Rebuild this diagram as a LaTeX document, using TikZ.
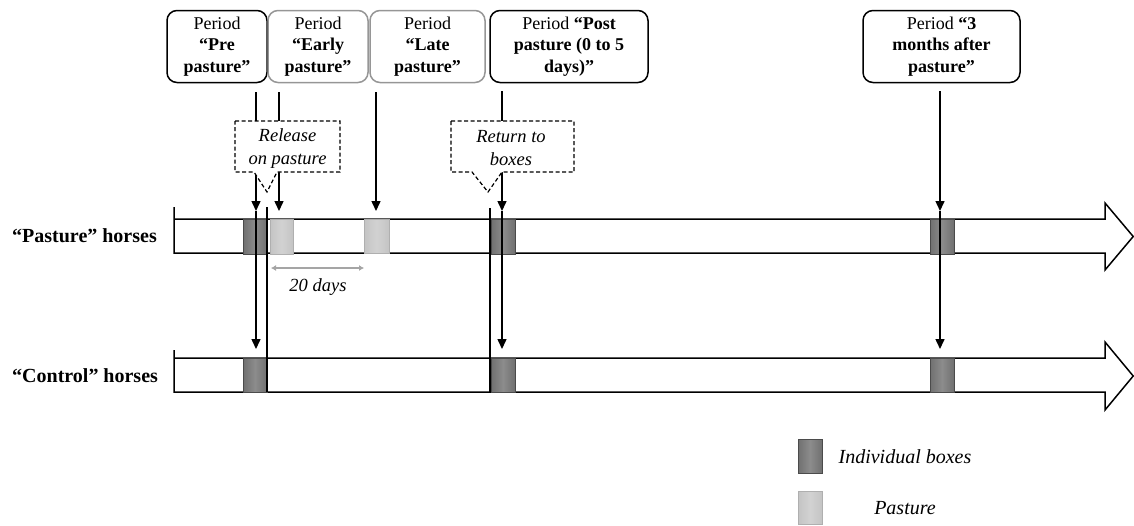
\documentclass[tikz,border=0pt]{standalone}
\usepackage{fontspec}
\setmainfont{Liberation Serif}
\usetikzlibrary{arrows.meta}
\definecolor{dkfill}{RGB}{112,112,112}
\definecolor{dkmid}{RGB}{140,140,140}
\definecolor{dkline}{RGB}{75,75,75}
\definecolor{ltfill}{RGB}{196,196,196}
\definecolor{ltmid}{RGB}{210,210,210}
\definecolor{ltline}{RGB}{175,175,175}
\definecolor{grayframe}{RGB}{150,150,150}
\definecolor{durgray}{RGB}{165,165,165}
\tikzset{
  pbox/.style={draw=black, line width=1.5pt, rounded corners=10pt, align=center,
    inner sep=0pt, minimum height=72pt, font=\fontsize{18}{21.7}\selectfont},
  gbox/.style={pbox, draw=grayframe},
  bar/.style={draw=black, line width=1.5pt, fill=white, line join=miter},
  dkbox/.style={draw=dkline, line width=1pt, left color=dkfill, right color=dkfill, middle color=dkmid},
  ltbox/.style={draw=ltline, line width=1pt, left color=ltfill, right color=ltfill, middle color=ltmid},
  sepline/.style={draw=black, line width=1.5pt},
  arr/.style={draw=black, line width=1.5pt, -{Triangle[width=9pt,length=10pt]}},
  callout/.style={draw=black, line width=1.2pt, fill=white, dash pattern=on 4pt off 2.5pt},
  ctext/.style={align=center, inner sep=0pt, font=\fontsize{18.5}{23}\selectfont\itshape},
  rowlabel/.style={anchor=west, inner sep=0pt, font=\fontsize{20}{24}\selectfont\bfseries},
  legtext/.style={inner sep=0pt, font=\fontsize{20}{24}\selectfont\itshape},
  durarrow/.style={draw=durgray, line width=2.5pt, {Latex[length=5pt,width=6pt]}-{Latex[length=5pt,width=6pt]}}
}
\begin{document}
\begin{tikzpicture}[x=1pt,y=-1pt]
\useasboundingbox (0,0) rectangle (1134,525);

% period boxes
\node[pbox, minimum width=100pt] (pre) at (217,46.5) {Period\\\textbf{“Pre}\\\textbf{pasture”}};
\node[gbox, minimum width=100pt] (early) at (318,46.5) {Period\\\textbf{“Early}\\\textbf{pasture”}};
\node[gbox, minimum width=115pt] (late) at (427.5,46.5) {Period\\\textbf{“Late}\\\textbf{pasture”}};
\node[pbox, minimum width=158pt] (post) at (569,46.5) {Period \textbf{“Post}\\\textbf{pasture (0 to 5}\\\textbf{days)”}};
\node[pbox, minimum width=157pt] (three) at (941.5,46.5) {Period \textbf{“3}\\\textbf{months after}\\\textbf{pasture”}};

% timeline bars
\draw[bar] (174,207) -- (174,253) -- (1105,253) -- (1105,270) -- (1133.2,236.5) -- (1105,203) -- (1105,219) -- (174,219);
\draw[bar] (174,350) -- (174,392) -- (1105,392) -- (1105,410) -- (1133.2,376) -- (1105,342) -- (1105,358) -- (174,358);

% period blocks on the "Pasture" bar
\draw[dkbox] (243,219) rectangle (267,254);
\draw[ltbox] (270,219) rectangle (293,254);
\draw[ltbox] (364,219) rectangle (389,253);
\draw[dkbox] (491,219) rectangle (515,254);
\draw[dkbox] (930,219) rectangle (954,254);
% period blocks on the "Control" bar
\draw[dkbox] (243,358) rectangle (267,392);
\draw[dkbox] (491,358) rectangle (515,392);
\draw[dkbox] (930,358) rectangle (954,392);

% separators
\coordinate (s1t) at (267,207); \coordinate (s1b) at (267,392);
\coordinate (s2t) at (490,208); \coordinate (s2b) at (490,392);
\draw[sepline] (s1t) -- (s1b);
\draw[sepline] (s2t) -- (s2b);

% arrows from period boxes
\coordinate (preA) at (256,92);  \coordinate (preP) at (256,211); \coordinate (preC) at (256,349);
\coordinate (earA) at (279,92);  \coordinate (earP) at (279,211);
\coordinate (latA) at (376,92);  \coordinate (latP) at (376,211);
\coordinate (posA) at (502,91);  \coordinate (posP) at (502,211); \coordinate (posC) at (502,349);
\coordinate (thrA) at (940,91);  \coordinate (thrP) at (940,211); \coordinate (thrC) at (940,349);
\draw[arr] (preA) -- (preP);
\draw[arr] (preP) -- (preC);
\draw[arr] (earA) -- (earP);
\draw[arr] (latA) -- (latP);
\draw[arr] (posA) -- (posP);
\draw[arr] (posP) -- (posC);
\draw[arr] (thrA) -- (thrP);
\draw[arr] (thrP) -- (thrC);

% callouts
\draw[callout] (235,121) -- (340,121) -- (340,172) -- (277,172) -- (267,192) -- (254,172) -- (235,172) -- cycle;
\node[ctext] (release) at (287.5,148.5) {Release\\on pasture};
\draw[callout] (451,121) -- (574,121) -- (574,172) -- (502,172) -- (488,192) -- (472,172) -- (451,172) -- cycle;
\node[ctext] (return) at (511,148.5) {Return to\\boxes};

% duration
\coordinate (d1) at (271,268); \coordinate (d2) at (364,268);
\draw[durarrow] (d1) -- (d2);
\node[ctext] (days) at (318,287) {20 days};

% row labels
\node[rowlabel] (plab) at (12,236) {“Pasture” horses};
\node[rowlabel] (clab) at (12,376) {“Control” horses};

% legend
\draw[dkbox] (798,439) rectangle (822,473);
\draw[ltbox] (798,491) rectangle (822,524.5);
\node[legtext] (leg1) at (905,457) {Individual boxes};
\node[legtext] (leg2) at (905,508) {Pasture};
\end{tikzpicture}
\end{document}
